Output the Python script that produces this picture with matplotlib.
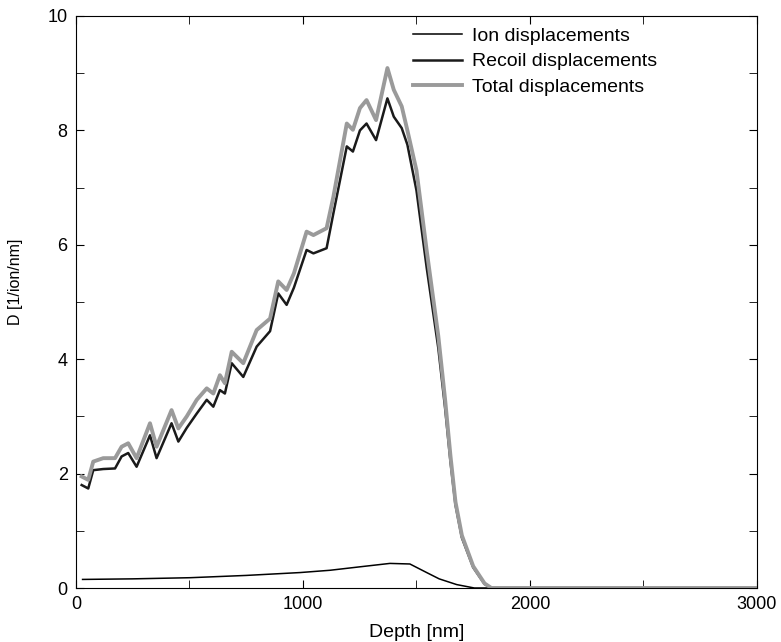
import matplotlib
matplotlib.use('Agg')
import matplotlib.pyplot as plt
from matplotlib.ticker import MultipleLocator

plt.rcParams['font.family'] = ['Liberation Sans', 'DejaVu Sans']

# depth grid for recoil / total curves [nm]
depth = [25, 54, 76, 120, 172, 201, 230, 267, 326, 355, 421, 451, 488, 532,
         576, 605, 634, 656, 686, 737, 796, 855, 891, 928, 960, 1016, 1046,
         1104, 1134, 1193, 1220, 1251, 1280, 1322, 1372, 1400, 1435, 1460,
         1500, 1545, 1596, 1626, 1650, 1672, 1700, 1750, 1800, 1830, 2000,
         2500, 3000]
total_disp = [1.95, 1.89, 2.21, 2.27, 2.27, 2.47, 2.53, 2.27, 2.88, 2.47,
              3.11, 2.79, 3.00, 3.29, 3.49, 3.40, 3.72, 3.58, 4.13, 3.93,
              4.51, 4.71, 5.36, 5.21, 5.50, 6.23, 6.17, 6.29, 6.84, 8.12,
              8.01, 8.39, 8.53, 8.18, 9.09, 8.71, 8.42, 8.00, 7.30, 5.90,
              4.41, 3.30, 2.30, 1.50, 0.92, 0.38, 0.08, 0.0, 0.0, 0.0, 0.0]
recoil_disp = [1.80, 1.74, 2.06, 2.08, 2.09, 2.30, 2.36, 2.12, 2.67, 2.27,
               2.88, 2.56, 2.80, 3.05, 3.29, 3.17, 3.46, 3.40, 3.93, 3.69,
               4.22, 4.49, 5.15, 4.95, 5.25, 5.91, 5.85, 5.94, 6.55, 7.72,
               7.63, 8.00, 8.12, 7.83, 8.56, 8.24, 8.04, 7.75, 6.95, 5.60,
               4.20, 3.15, 2.20, 1.45, 0.88, 0.36, 0.07, 0.0, 0.0, 0.0, 0.0]

# ion displacements
ion_depth = [29, 250, 502, 750, 987, 1119, 1250, 1383, 1471, 1545, 1600,
             1677, 1755, 2000, 2500, 3000]
ion_disp = [0.15, 0.16, 0.18, 0.22, 0.27, 0.31, 0.37, 0.43, 0.42, 0.27,
            0.16, 0.06, 0.0, 0.0, 0.0, 0.0]

fig = plt.figure(figsize=(7.81, 6.42), dpi=100)
ax = fig.add_axes([0.0973, 0.0841, 0.8719, 0.8910])

ax.plot(ion_depth, ion_disp, color='black', lw=1.1, label='Ion displacements')
ax.plot(depth, recoil_disp, color='#1a1a1a', lw=1.8, label='Recoil displacements')
ax.plot(depth, total_disp, color='#9a9a9a', lw=2.8, label='Total displacements')

ax.set_xlim(0, 3000)
ax.set_ylim(0, 10)
ax.xaxis.set_major_locator(MultipleLocator(1000))
ax.xaxis.set_minor_locator(MultipleLocator(500))
ax.yaxis.set_major_locator(MultipleLocator(2))
ax.yaxis.set_minor_locator(MultipleLocator(1))
ax.tick_params(which='both', direction='in', top=True, right=True, labelsize=13)
ax.tick_params(which='major', length=6, pad=6)
ax.tick_params(which='minor', length=6)

ax.set_xlabel('Depth [nm]', fontsize=14, labelpad=8)
ax.set_ylabel('D [1/ion/nm]', fontsize=11.5)
ax.yaxis.set_label_coords(-0.078, 0.535)

ax.legend(loc='upper left', bbox_to_anchor=(0.495, 0.98), frameon=False,
          fontsize=14, handlelength=2.5, handletextpad=0.55,
          labelspacing=0.4, borderpad=0, borderaxespad=0)

fig.savefig('out.png', dpi=100)
